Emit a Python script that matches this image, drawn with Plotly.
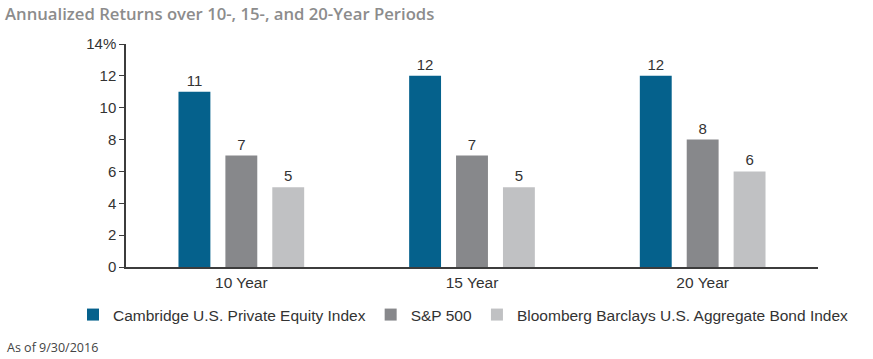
import plotly.graph_objects as go

categories = ["10 Year", "15 Year", "20 Year"]
series_names = ["Cambridge U.S. Private Equity Index", "S&P 500", "Bloomberg Barclays U.S. Aggregate Bond Index"]
pe_values = [11, 12, 12]
sp_values = [7, 7, 8]
bond_values = [5, 5, 6]
colors = ["#05618c", "#87888b", "#c0c1c3"]
y_ticks = [0, 2, 4, 6, 8, 10, 12, 14]
y_tick_labels = ["0", "2", "4", "6", "8", "10", "12", "14%"]

fig = go.Figure()
for name, vals, col in zip(series_names, [pe_values, sp_values, bond_values], colors):
    fig.add_trace(go.Bar(
        x=categories, y=vals, name=name, marker_color=col, marker_line_width=0,
        text=[str(v) for v in vals], textposition="outside", cliponaxis=False,
        textfont=dict(family="Liberation Sans", size=15, color="#333333"),
    ))

fig.update_layout(
    width=873, height=359,
    margin=dict(l=126, r=55, t=44, b=92),
    paper_bgcolor="white", plot_bgcolor="white",
    barmode="group", bargap=0.39, bargroupgap=0.32,
    font=dict(family="Liberation Sans", size=15, color="#333333"),
    showlegend=True,
    legend=dict(orientation="h", x=-0.0766, xanchor="left", y=-0.139, yanchor="top",
                font=dict(family="Liberation Sans", size=15.5, color="#333333"),
                itemwidth=30, traceorder="normal"),
    xaxis=dict(range=[-0.5, 2.5], showline=True, linecolor="#3c3c3c", linewidth=2,
               ticks="", showgrid=False, automargin=False,
               tickfont=dict(size=15.5, color="#333333")),
    yaxis=dict(range=[0, 14], tickvals=y_ticks, ticktext=y_tick_labels, showline=True,
               linecolor="#3c3c3c", linewidth=1.5, ticks="outside", ticklen=5,
               tickcolor="#3c3c3c", showgrid=False, zeroline=False, automargin=False,
               tickfont=dict(size=15, color="#333333")),
    annotations=[
        dict(text="Annualized Returns over 10-, 15-, and 20-Year Periods", xref="paper", yref="paper",
             x=-0.178, y=1.139, xanchor="left", yanchor="middle", showarrow=False,
             font=dict(family="Open Sans", size=16.7, weight=600, color="#8c8c8c")),
        dict(text="As of 9/30/2016", xref="paper", yref="paper", x=-0.175, y=-0.363,
             xanchor="left", yanchor="middle", showarrow=False,
             font=dict(family="Open Sans", size=12.5, color="#444444")),
    ],
)
fig.write_html("out.html", config={"displayModeBar": False},
               post_script="document.body.style.margin='0';")
